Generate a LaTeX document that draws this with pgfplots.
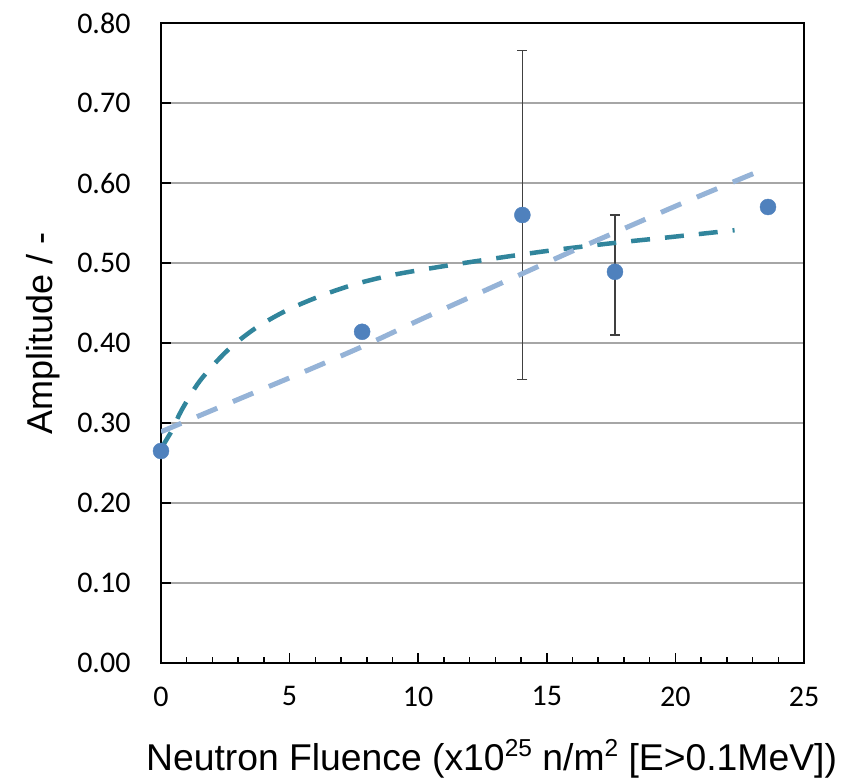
\documentclass[border=0pt]{standalone}
\usepackage{pgfplots}
\pgfplotsset{compat=1.18}
\usepackage{fontspec}
\setmainfont{Liberation Sans}
\newfontfamily\calibri{Carlito}
\definecolor{teal1}{RGB}{49,133,156}
\definecolor{lblue}{RGB}{149,179,215}
\definecolor{mblue}{RGB}{79,129,189}
\definecolor{gridgray}{RGB}{166,166,166}
\begin{document}
\begin{tikzpicture}
\useasboundingbox (0,0) rectangle (845pt,778pt);
\begin{axis}[
  at={(161pt,115pt)}, anchor=south west,
  width=643pt, height=640pt, scale only axis,
  xmin=0, xmax=25, ymin=0, ymax=0.8,
  xtick={0,5,10,15,20,25},
  ytick={0,0.1,0.2,0.3,0.4,0.5,0.6,0.7,0.8},
  minor x tick num=4,
  tick align=inside, xtick pos=left, ytick pos=left,
  major tick length=10pt, minor tick length=6pt,
  every tick/.style={black, line width=1.5pt},
  axis line style={black, line width=2.5pt},
  ymajorgrids, grid style={gridgray, line width=1.8pt},
  /pgf/number format/assume math mode=true,
  ticklabel style={font=\calibri\fontsize{30}{35}\selectfont},
  yticklabel style={/pgf/number format/fixed, /pgf/number format/fixed zerofill, /pgf/number format/precision=2, xshift=-27pt},
  xticklabel style={yshift=-20pt},
  xlabel={Neutron Fluence (x10\raisebox{0.75ex}{\fontsize{24.5}{25}\selectfont 25} n/m\raisebox{0.75ex}{\fontsize{24.5}{25}\selectfont 2} [E>0.1MeV])},
  xlabel style={font=\fontsize{37.3}{42}\selectfont, at={(axis description cs:0.514,-0.16875)}, anchor=base},
  ylabel={Amplitude / -},
  ylabel style={font=\fontsize{36}{42}\selectfont, at={(axis description cs:-0.1695,0.515)}, anchor=base},
]
% error bars
\addplot[only marks, mark=none,
  error bars/.cd, y dir=both, y explicit,
  error bar style={black!75, line width=1.3pt},
  error mark options={black!75, rotate=90, mark size=5pt, line width=1.3pt}]
  coordinates {(14.05,0.56) += (0,0.206) -= (0,0.206)
               (17.65,0.489) += (0,0.071) -= (0,0.079)};
% data points
\addplot[only marks, mark=*, mark size=8pt, mark options={fill=mblue, draw=mblue}]
  coordinates {(0,0.265) (7.82,0.414) (14.05,0.56) (17.65,0.489) (23.6,0.57)};
% fit 1 (teal)
\addplot[teal1, line width=4.5pt, dash pattern=on 19pt off 15pt, smooth, tension=0.5]
  coordinates {(0,0.268) (0.43,0.291) (0.8,0.316) (1.52,0.353) (2.56,0.390)
   (3.65,0.418) (4.9,0.441) (6.3,0.460) (7.6,0.474) (9.0,0.485) (10.6,0.494)
   (12.4,0.503) (15.0,0.515) (17.6,0.525) (19.7,0.532) (22.3,0.541)};
% fit 2 (light blue)
\addplot[lblue, line width=5pt, dash pattern=on 22pt off 17pt, smooth]
  coordinates {(0,0.289) (2,0.316) (4,0.343) (6,0.370) (8,0.398) (10,0.428)
   (12,0.457) (14,0.486) (16,0.515) (18,0.543) (20,0.571) (22,0.598) (23.2,0.614)};
\end{axis}
\end{tikzpicture}
\end{document}
